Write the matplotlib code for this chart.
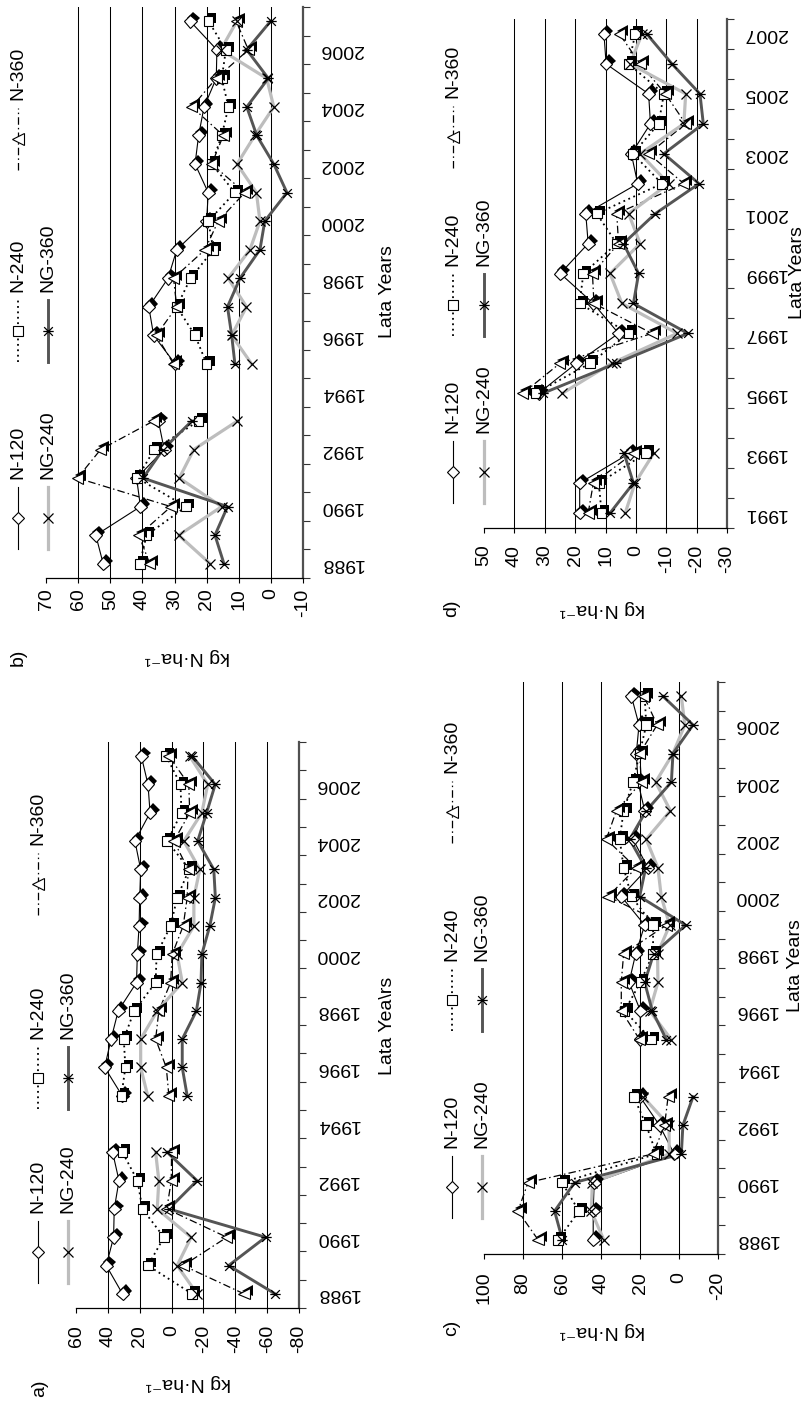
import numpy as np
import matplotlib
matplotlib.use('Agg')
import matplotlib.pyplot as plt
import matplotlib.patheffects as pe
from matplotlib.lines import Line2D
from matplotlib.path import Path

plt.rcParams['font.family'] = ['Liberation Sans', 'DejaVu Sans']
plt.rcParams['axes.unicode_minus'] = False

W, H = 805, 1401
nan = np.nan

SERIES = ['N-120', 'N-240', 'N-360', 'NG-240', 'NG-360']

years_abc = list(range(1988, 2008))
years_d = list(range(1991, 2008))

# panel a)
a_n120 = [30.8, 41, 36.4, 36, 33, 37, nan, 31, 42, 38, 33.5, 22, 21.5, 20.4, 20, 19.4, 23, 13.5, 14.8, 19]
a_n240 = [-12.9, 14.8, 4.8, 18.3, 21.4, 30.8, nan, 31.5, 29, 30, 23.5, 10, 9.4, 0.6, -3.5, -11, 2.7, -6.2, -5.6, 3.3]
a_n360 = [-45.5, -7.3, -34.7, 3, 0.2, 0, nan, 1.7, 3.3, 10, 8, 0.6, -0.4, -7.3, -9.8, -10.4, -1.5, -11.4, -10.8, 1.7]
a_ng240 = [-16, -3.5, -12.3, 9, 8, 10, nan, 15, 19.4, 19.4, 9, -6.7, -3.5, -14, -14, -17.7, -7.7, -19, -22.7, -11.4]
a_ng360 = [-65, -35.8, -59, 1.7, -16, 2.7, nan, -9.8, -6.7, -6.7, -15.6, -18.5, -19, -24, -27.5, -26.5, -16.4, -22, -27.4, -12.9]

# panel b)
b_n120 = [52.2, 54.5, 40.6, 41.8, 33.2, 35, nan, 29.8, 36.5, 38, 32, 29.3, 20, 19.5, 23.6, 22.5, 20.8, 17, 16.8, 25.1]
b_n240 = [40.8, 38.7, 26.4, 41.6, 36.3, 22.5, nan, 20, 23.6, 29.3, 25, 17.9, 19.5, 11.2, 18.4, 15.3, 13.2, 15.3, 14, 19.4]
b_n360 = [37.7, 41.1, 31.1, 60.2, 53, 36.5, nan, 30.3, 35.7, 29.3, 30.3, 20.5, 16.4, 8.1, 18.4, 14.8, 24.6, 17, 7, 10.8]
b_ng240 = [18.9, 28.7, 15.3, 28.5, 24, 10.4, nan, 6, 12.2, 7.6, 13.3, 6.5, 3.4, 4.5, 10.5, 5, -0.9, 1.3, 15.6, 10.6]
b_ng360 = [14.6, 17.4, 13.5, 39.8, 33.6, 24.6, nan, 11.2, 12.2, 13.5, 9.6, 3.4, 1.9, -5, -0.9, 4.4, 7.5, 0.8, 7.5, 0.1]

# panel c)
c_n120 = [44, 44, 43.5, 2.5, 10, 20, nan, 20, 19.8, 25.6, 22.2, 17.6, 29.6, 15.9, 23.6, 17.6, 21, 21.9, 20.5, 24.4]
c_n240 = [62, 51.3, 60, 11.6, 16.8, 23.2, nan, 14.2, 27.9, 19.8, 13.3, 13.3, 24.4, 28.4, 30.4, 28.4, 23.6, 20.2, 16.8, 17.6]
c_n360 = [72.3, 82.6, 77.4, 13.3, 7.4, 5.6, nan, 20.2, 29.6, 29.6, 28.4, 6.5, 36.4, 21.9, 37.3, 32.1, 19.3, 20.2, 11.2, 18]
c_ng240 = [38.6, 45, 44.4, 5, 5.1, 18.5, nan, 4, 15, 10.8, 11, 4.8, 9.1, 10.8, 16.8, 4.4, 12, 3.1, -3, -1.2]
c_ng360 = [59.8, 63.8, 53.5, -1.2, -2, -7.2, nan, 6.5, 13.7, 17.6, 13, -3.4, 20.2, 17.1, 25.3, 16.8, 3.9, 3.1, -7.2, 8.2]

# panel d)
d_n120 = [18.5, 18.5, 2, nan, 32, 19.6, 5.7, 14, 24.9, 15.7, 16.5, -0.6, 1.5, -4.8, -4.2, 9.8, 10.5]
d_n240 = [11.3, 12.2, -3.3, nan, 33, 15.1, 2.4, 18.5, 17.3, 6.3, 12.9, -8.6, 1, -7.5, -9.2, 2.4, 0.2]
d_n360 = [15.7, 14, 0.8, nan, 37.2, 25, -5.3, 13.8, 14.3, 5.7, 6.3, -15.8, -4.2, -16.4, -9.7, -1.4, 5.4]
d_ng240 = [3.5, 0.3, -5.9, nan, 24.2, 8, -13.6, 4.6, 8.5, -1.4, 2.4, -10.8, -1.4, -15.8, -16.4, 1.9, -2]
d_ng360 = [8.5, 0.8, 3.9, nan, 30.6, 6.5, -17.1, 0.8, -0.9, 4.1, -6.4, -20.8, -9.2, -22.2, -21.1, -11.9, -3.6]

# star marker (X with a cross bar), as the page is turned
star = Path([(-1, -1), (1, 1), (-1, 1), (1, -1), (-1.2, 0), (1.2, 0)],
            [Path.MOVETO, Path.LINETO, Path.MOVETO, Path.LINETO, Path.MOVETO, Path.LINETO])

shadow = [pe.SimplePatchShadow(offset=(2.2, 2.2), shadow_rgbFace='black', alpha=1.0), pe.Normal()]

LINE = {
    'N-120': dict(color='black', lw=0.8, ls='-'),
    'N-240': dict(color='black', lw=1.3, ls=(0, (1, 2))),
    'N-360': dict(color='black', lw=0.9, ls=(0, (6, 2.5, 1.2, 2.5))),
    'NG-240': dict(color='#bdbdbd', lw=2.3, ls='-'),
    'NG-360': dict(color='#555555', lw=2.1, ls='-'),
}
MARK = {
    'N-120': dict(marker='D', ms=6.5, mfc='white', mec='black', mew=0.8),
    'N-240': dict(marker='s', ms=7, mfc='white', mec='black', mew=0.8),
    'N-360': dict(marker='<', ms=8, mfc='white', mec='black', mew=0.8),
    'NG-240': dict(marker='x', ms=7.5, mfc='none', mec='black', mew=0.9),
    'NG-360': dict(marker=star, ms=7.5, mfc='none', mec='black', mew=0.9),
}
SHADOW = {'N-120': True, 'N-240': True, 'N-360': True, 'NG-240': False, 'NG-360': False}

fig = plt.figure(figsize=(W / 100, H / 100), dpi=100)


def fx(x):
    return x / W


def fy(y):
    return 1 - y / H


def panel(rect, years, data, vmin, vmax, step, label_years, pad_x):
    x0, x1, y0, y1 = rect
    ax = fig.add_axes([fx(x0), fy(y1), (x1 - x0) / W, (y1 - y0) / H])
    ax.set_facecolor('none')
    idx = np.arange(len(years))
    ticks = np.arange(vmin, vmax + step / 2, step)
    for t in ticks[1:-1]:
        ax.axvline(t, color='black', lw=0.75, zorder=1)
    for name, vals in zip(SERIES, data):
        ax.plot(vals, idx, zorder=2, **LINE[name])
    for name, vals in zip(SERIES, data):
        ax.plot(vals, idx, ls='none', zorder=3,
                path_effects=shadow if SHADOW[name] else None, **MARK[name])
    ax.set_xlim(vmax, vmin)
    ax.set_ylim(-0.5, len(years) - 0.5)
    ax.set_xticks(ticks, labels=['%g' % t for t in ticks], rotation=90, fontsize=14)
    ax.tick_params(axis='x', direction='out', length=3.6, width=0.8, pad=pad_x)
    ax.set_yticks(np.arange(-0.5, len(years)), labels=[])
    pos = [i for i, y in enumerate(years) if y in label_years]
    ax.set_yticks(pos, labels=[str(years[i]) for i in pos], minor=True,
                  rotation=180, fontsize=14, va='center')
    ax.tick_params(axis='y', which='both', left=False, right=True,
                   labelleft=False, labelright=True)
    ax.tick_params(axis='y', which='major', length=5, width=0.8, direction='out',
                   color='#333333')
    ax.tick_params(axis='y', which='minor', length=0, pad=12)
    for s in ['top', 'left']:
        ax.spines[s].set_visible(False)
    ax.spines['bottom'].set_linewidth(0.9)
    ax.spines['right'].set_color('#505050')
    ax.spines['right'].set_linewidth(1.6)
    return ax


def legend(row_x, col_y):
    slots = [(0, 0), (0, 1), (0, 2), (1, 0), (1, 1)]
    for name, (r, c) in zip(SERIES, slots):
        x, y = row_x[r], col_y[c]
        fig.add_artist(Line2D([fx(x), fx(x)], [fy(y + 31), fy(y - 31)],
                              transform=fig.transFigure, **LINE[name]))
        fig.add_artist(Line2D([fx(x)], [fy(y)], transform=fig.transFigure, ls='none',
                              **MARK[name]))
        fig.text(fx(x), fy(y - 39), name, rotation=90, rotation_mode='anchor',
                 ha='left', va='center', fontsize=14)


def labels(tag, tag_xy, ylab_xy, xlab, xlab_xy):
    fig.text(fx(tag_xy[0]), fy(tag_xy[1]), tag, rotation=90, ha='center', va='center', fontsize=14)
    fig.text(fx(ylab_xy[0]), fy(ylab_xy[1]), 'kg N·ha⁻¹', rotation=180,
             ha='center', va='center', fontsize=14)
    fig.text(fx(xlab_xy[0]), fy(xlab_xy[1]), xlab, rotation=90, ha='center', va='center', fontsize=14)


panel((76, 299, 742, 1308), years_abc, [a_n120, a_n240, a_n360, a_ng240, a_ng360],
      -80, 60, 20, range(1988, 2008, 2), 8.6)
legend((38, 68), (1252, 1078, 884))
labels('a)', (40, 1388), (188, 1383), 'Lata Yea\\rs', (387, 1026))

panel((46, 303, 7, 578), years_abc, [b_n120, b_n240, b_n360, b_ng240, b_ng360],
      -10, 70, 10, range(1988, 2008, 2), 4)
legend((18, 48), (518, 331, 139))
labels('b)', (18, 657), (187, 657), 'Lata Years', (387, 292))

panel((484, 718, 682, 1254), years_abc, [c_n120, c_n240, c_n360, c_ng240, c_ng360],
      -20, 100, 20, range(1988, 2008, 2), 9.2)
legend((452, 482), (1187, 1000, 812))
labels('c)', (452, 1328), (602, 1330), 'Lata Years', (795, 966))

panel((484, 727, 19, 528), years_d, [d_n120, d_n240, d_n360, d_ng240, d_ng360],
      -30, 50, 10, range(1991, 2008, 2), 8.4)
legend((453, 484), (472, 305, 137))
labels('d)', (452, 608), (602, 608), 'Lata Years', (797, 273))

fig.savefig('out.png', dpi=100)
